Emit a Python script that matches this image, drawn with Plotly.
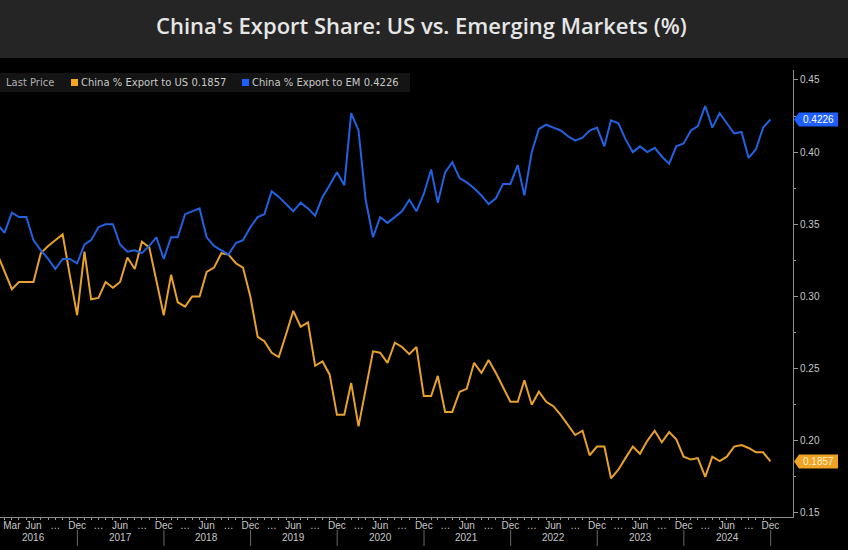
import calendar
import plotly.graph_objects as go

# ---------------- data (monthly, Jan 2016 - Dec 2024) ----------------
start_year, start_month, n_months = 2016, 1, 108

us_share = [
    0.329, 0.318, 0.305, 0.310, 0.310, 0.310, 0.330, 0.335, 0.339, 0.343, 0.315, 0.287,
    0.331, 0.298, 0.299, 0.310, 0.306, 0.310, 0.327, 0.319, 0.338, 0.334, 0.311, 0.287,
    0.315, 0.296, 0.293, 0.300, 0.300, 0.317, 0.320, 0.330, 0.329, 0.323, 0.320, 0.300,
    0.272, 0.269, 0.261, 0.258, 0.274, 0.290, 0.279, 0.282, 0.252, 0.255, 0.246, 0.218,
    0.218, 0.240, 0.210, 0.236, 0.262, 0.261, 0.254, 0.268, 0.265, 0.260, 0.265, 0.231,
    0.231, 0.245, 0.220, 0.220, 0.234, 0.236, 0.254, 0.247, 0.256, 0.247, 0.237, 0.227,
    0.227, 0.242, 0.225, 0.234, 0.227, 0.224, 0.218, 0.211, 0.204, 0.207, 0.190, 0.196,
    0.196, 0.174, 0.180, 0.188, 0.196, 0.191, 0.200, 0.207, 0.199, 0.206, 0.201, 0.189,
    0.187, 0.188, 0.175, 0.189, 0.186, 0.189, 0.196, 0.197, 0.195, 0.192, 0.192, 0.1857,
]

em_share = [
    0.350, 0.344, 0.358, 0.355, 0.355, 0.339, 0.332, 0.326, 0.319, 0.326, 0.326, 0.323,
    0.336, 0.339, 0.348, 0.350, 0.350, 0.336, 0.331, 0.332, 0.330, 0.335, 0.341, 0.326,
    0.341, 0.341, 0.357, 0.359, 0.361, 0.341, 0.335, 0.332, 0.329, 0.337, 0.339, 0.348,
    0.355, 0.357, 0.373, 0.369, 0.364, 0.359, 0.365, 0.361, 0.356, 0.369, 0.377, 0.386,
    0.377, 0.427, 0.415, 0.367, 0.341, 0.355, 0.351, 0.355, 0.359, 0.367, 0.359, 0.371,
    0.388, 0.365, 0.386, 0.393, 0.382, 0.379, 0.375, 0.370, 0.364, 0.368, 0.378, 0.378,
    0.391, 0.370, 0.400, 0.416, 0.419, 0.417, 0.415, 0.411, 0.408, 0.410, 0.415, 0.417,
    0.404, 0.422, 0.420, 0.409, 0.400, 0.404, 0.400, 0.403, 0.397, 0.392, 0.404, 0.406,
    0.415, 0.418, 0.432, 0.417, 0.427, 0.420, 0.413, 0.414, 0.396, 0.402, 0.417, 0.4226,
]

us_name = "China % Export to US"
em_name = "China % Export to EM"
title_text = "China's Export Share: US vs. Emerging Markets (%)"
years = list(range(2016, 2025))
y_ticks = [0.15, 0.20, 0.25, 0.30, 0.35, 0.40, 0.45]
month_abbr = ["Jan", "Feb", "Mar", "Apr", "May", "Jun", "Jul", "Aug", "Sep", "Oct", "Nov", "Dec"]

# month-end dates
dates = []
y, m = start_year, start_month
for _ in range(n_months):
    d = calendar.monthrange(y, m)[1]
    dates.append(f"{y:04d}-{m:02d}-{d:02d}")
    m += 1
    if m > 12:
        m, y = 1, y + 1

# quarterly tick labels
tickvals, ticktext = [], []
for i, dt in enumerate(dates):
    mm = int(dt[5:7])
    if mm in (3, 6, 9, 12):
        tickvals.append(dt)
        if mm == 3 and i == 2:
            ticktext.append("Mar")
        elif mm in (6, 12):
            ticktext.append(month_abbr[mm - 1])
        else:
            ticktext.append("…")

ORANGE = "#e8a12a"
BLUE = "#2261e0"
TXT = "#c8c8c8"

W, H = 848, 550
ML, MR, MT, MB = 0, 55, 70, 33
PW, PH = W - ML - MR, H - MT - MB


def px_x(p):
    return (p - ML) / PW


def px_y(p):
    return (H - MB - p) / PH


fig = go.Figure()
fig.add_trace(go.Scatter(x=dates, y=us_share, mode="lines", name=us_name,
                         line=dict(color=ORANGE, width=2), hoverinfo="x+y"))
fig.add_trace(go.Scatter(x=dates, y=em_share, mode="lines", name=em_name,
                         line=dict(color=BLUE, width=2), hoverinfo="x+y"))

shapes = []
annotations = []

# header band
shapes.append(dict(type="rect", xref="paper", yref="paper", x0=px_x(0), x1=px_x(W),
                   y0=px_y(58), y1=px_y(0), fillcolor="#252525", line=dict(width=0), layer="below"))
annotations.append(dict(xref="paper", yref="paper", x=px_x(421), y=px_y(25), text=title_text,
                        showarrow=False, xanchor="center", yanchor="middle",
                        font=dict(family="Open Sans", size=22, color="#e6e6e6", weight=600)))

# legend bar
shapes.append(dict(type="rect", xref="paper", yref="paper", x0=px_x(0), x1=px_x(410),
                   y0=px_y(92), y1=px_y(73), fillcolor="#141414", line=dict(width=0), layer="below"))
leg_y = px_y(82.5)
LEG_FONT = "DejaVu Sans"
annotations.append(dict(xref="paper", yref="paper", x=px_x(4), y=leg_y, text="Last Price",
                        showarrow=False, xanchor="left", yanchor="middle",
                        font=dict(family=LEG_FONT, size=10, color="#b0b0b0")))
shapes.append(dict(type="rect", xref="paper", yref="paper", x0=px_x(71), x1=px_x(78),
                   y0=px_y(86), y1=px_y(79), fillcolor="#f5a623", line=dict(width=0)))
annotations.append(dict(xref="paper", yref="paper", x=px_x(79), y=leg_y,
                        text=f"{us_name} {us_share[-1]:.4f}",
                        showarrow=False, xanchor="left", yanchor="middle",
                        font=dict(family=LEG_FONT, size=10, color=TXT)))
shapes.append(dict(type="rect", xref="paper", yref="paper", x0=px_x(242), x1=px_x(249),
                   y0=px_y(86), y1=px_y(79), fillcolor="#1f5fff", line=dict(width=0)))
annotations.append(dict(xref="paper", yref="paper", x=px_x(250), y=leg_y,
                        text=f"{em_name} {em_share[-1]:.4f}",
                        showarrow=False, xanchor="left", yanchor="middle",
                        font=dict(family=LEG_FONT, size=10, color=TXT)))

# last-value tags on right axis
yr_span = 0.3097 / PH  # data units per pixel


def tag(value, fill, txtcol):
    h = 7 * yr_span
    x_tip, x_l, x_r = px_x(794), px_x(799), px_x(838)
    path = (f"M {x_tip},{value} L {x_l},{value + h} L {x_r},{value + h} "
            f"L {x_r},{value - h} L {x_l},{value - h} Z")
    shapes.append(dict(type="path", xref="paper", yref="y", path=path,
                       fillcolor=fill, line=dict(width=0)))
    annotations.append(dict(xref="paper", yref="y", x=px_x(818.5), y=value, text=f"{value:.4f}",
                            showarrow=False, xanchor="center", yanchor="middle",
                            font=dict(family="Liberation Sans", size=10, color=txtcol)))


tag(em_share[-1], "#1f5fff", "#ffffff")
tag(us_share[-1], "#f0a224", "#fff2cc")

# year labels and separators
for yv in years:
    annotations.append(dict(xref="x", yref="paper", x=f"{yv}-07-01", y=px_y(537.5), text=str(yv),
                            showarrow=False, xanchor="center", yanchor="middle",
                            font=dict(family="Liberation Sans", size=10, color=TXT)))
    shapes.append(dict(type="line", xref="x", yref="paper", x0=f"{yv + 1}-01-01", x1=f"{yv + 1}-01-01",
                       y0=px_y(530), y1=px_y(546), line=dict(color="#6a6a6a", width=1)))

fig.update_layout(
    width=W, height=H,
    margin=dict(l=ML, r=MR, t=MT, b=MB, pad=0),
    paper_bgcolor="#000000",
    plot_bgcolor="rgba(0,0,0,0)",
    showlegend=False,
    shapes=shapes,
    annotations=annotations,
    xaxis=dict(
        type="date",
        range=["2016-02-10", "2025-04-05"],
        tickmode="array", tickvals=tickvals, ticktext=ticktext,
        ticks="outside", ticklen=2, tickcolor="#9a9a9a",
        minor=dict(tickmode="array", tickvals=dates, ticks="outside", ticklen=2, tickcolor="#9a9a9a"),
        showgrid=False, zeroline=False,
        showline=True, linecolor="#8a8a8a", linewidth=1,
        tickfont=dict(family="Liberation Sans", size=10, color=TXT),
        ticklabelstandoff=-3,
        tickangle=0,
    ),
    yaxis=dict(
        side="right",
        range=[0.1472, 0.4569],
        tickmode="array", tickvals=y_ticks, ticktext=[f"{v:.2f}" for v in y_ticks],
        ticks="outside", ticklen=4, tickcolor="#9a9a9a",
        minor=dict(tickmode="array", tickvals=[0.175, 0.225, 0.275, 0.325, 0.375, 0.425],
                   ticks="outside", ticklen=2, tickcolor="#9a9a9a"),
        showgrid=False, zeroline=False,
        showline=True, linecolor="#8a8a8a", linewidth=1,
        tickfont=dict(family="Liberation Sans", size=10, color=TXT),
    ),
)

fig.write_html("out.html", config={"displayModeBar": False},
               post_script="document.body.style.margin='0';document.body.style.overflow='hidden';")
